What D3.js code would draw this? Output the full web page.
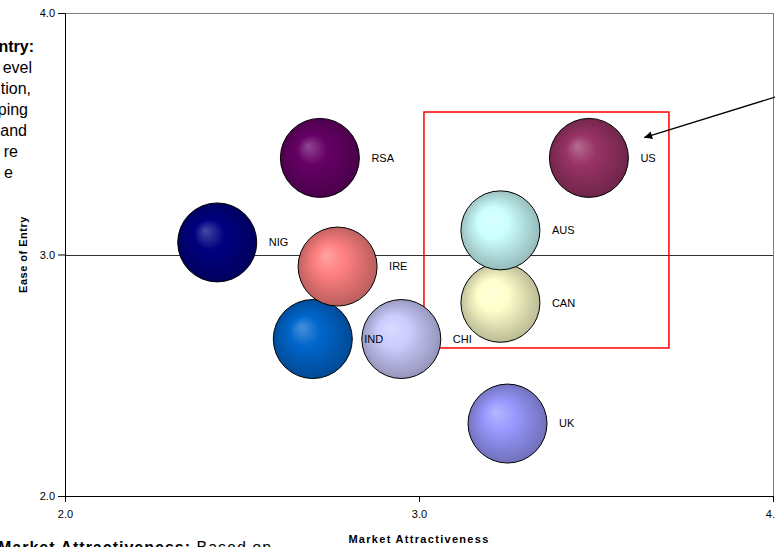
<!DOCTYPE html>
<html>
<head>
<meta charset="utf-8">
<script src="https://cdn.jsdelivr.net/npm/d3@7"></script>
<style>
  html, body { margin: 0; padding: 0; background: #fff; overflow: hidden; }
  svg { display: block; font-family: "Liberation Sans", Arial, sans-serif; }
</style>
</head>
<body>
<svg id="chart" width="775" height="547"></svg>
<script>
// ---- data ----
const countries      = ["UK", "US", "CAN", "AUS", "RSA", "IND", "IRE", "CHI", "NIG"];
const attractiveness = [3.25, 3.48, 3.23, 3.23, 2.72, 2.70, 2.77, 2.95, 2.43];
const easeOfEntry    = [2.30, 3.40, 2.80, 3.10, 3.40, 2.65, 2.95, 2.65, 3.05];
const bubbleSizes    = [1, 1, 1, 1, 1, 1, 1, 1, 1];
const bubbleColors   = ["#9999FF", "#993366", "#FFFFCC", "#CCFFFF", "#660066", "#0066CC", "#FF8080", "#CCCCFF", "#000080"];
const tickValues     = [2.0, 3.0, 4.0];
const xTitle = "Market Attractiveness";
const yTitle = "Ease of Entry";
const referenceLineY = 3.0;
// highlighted region (data units): [x0, x1, y0, y1]
const highlightBox = [3.014, 3.706, 2.613, 3.59];
// arrow annotation (data units): from -> to
const arrowFrom = [4.006, 3.652];
const arrowTo   = [3.636, 3.484];
// clipped side text fragments
const sideLines  = ["ntry:", "evel", "tion,", "ping", "and", "re", "e"];
const sideEnds   = [34, 32, 31, 28, 27, 18, 13];

// ---- layout ----
const W = 775, H = 547;
const plot = { left: 65, right: 773, top: 13, bottom: 496 };
const svg = d3.select("#chart");

const x = d3.scaleLinear().domain([2, 4]).range([plot.left, plot.right]);
const y = d3.scaleLinear().domain([2, 4]).range([plot.bottom, plot.top]);
const r = d3.scaleSqrt().domain([0, d3.max(bubbleSizes)]).range([0, 39.5]);

const data = countries.map((c, i) => ({
  name: c, x: attractiveness[i], y: easeOfEntry[i], s: bubbleSizes[i], color: bubbleColors[i], i
}));

// gradients
const defs = svg.append("defs");
data.forEach(d => {
  const base = d3.color(d.color);
  const g = defs.append("radialGradient")
    .attr("id", "g" + d.i)
    .attr("cx", "50%").attr("cy", "50%").attr("r", "55%")
    .attr("fx", "35%").attr("fy", "35%");
  g.append("stop").attr("offset", "0%").attr("stop-color", d3.interpolateRgb(base, "#fff")(0.28));
  g.append("stop").attr("offset", "35%").attr("stop-color", base.formatHex());
  g.append("stop").attr("offset", "100%").attr("stop-color", base.darker(1.0).formatHex());
});
defs.append("marker")
  .attr("id", "arrowhead")
  .attr("viewBox", "0 0 10 10")
  .attr("refX", 10).attr("refY", 5)
  .attr("markerWidth", 12).attr("markerHeight", 8)
  .attr("markerUnits", "userSpaceOnUse")
  .attr("orient", "auto")
  .append("path").attr("d", "M0,0 L10,5 L0,10 Z").attr("fill", "#000");

// plot border (top/right gray)
svg.append("path")
  .attr("d", `M${plot.left},${plot.top}H${plot.right}V${plot.bottom}`)
  .attr("fill", "none").attr("stroke", "#808080").attr("stroke-width", 1)
  .attr("shape-rendering", "crispEdges");

// reference line at y=3.0
svg.append("line")
  .attr("x1", plot.left).attr("x2", plot.right)
  .attr("y1", Math.round(y(referenceLineY)) + 0.5).attr("y2", Math.round(y(referenceLineY)) + 0.5)
  .attr("stroke", "#333").attr("stroke-width", 1);

// axes
const xAxis = d3.axisBottom(x).tickValues(tickValues).tickFormat(d3.format(".1f")).tickSize(6).tickPadding(8);
const yAxis = d3.axisLeft(y).tickValues(tickValues).tickFormat(d3.format(".1f")).tickSize(7).tickPadding(3);

const gx = svg.append("g").attr("transform", `translate(0,${plot.bottom})`).call(xAxis);
const gy = svg.append("g").attr("transform", `translate(${plot.left},0)`).call(yAxis);
[gx, gy].forEach(g => {
  g.selectAll("path").attr("stroke", "#000");
  g.selectAll("line").attr("stroke", "#000");
  g.selectAll("text").attr("font-size", 11).attr("fill", "#000")
    .attr("font-family", "'Liberation Sans', Arial, sans-serif");
});

// red highlight box
svg.append("rect")
  .attr("x", x(highlightBox[0])).attr("y", y(highlightBox[3]))
  .attr("width", x(highlightBox[1]) - x(highlightBox[0]))
  .attr("height", y(highlightBox[2]) - y(highlightBox[3]))
  .attr("fill", "none").attr("stroke", "#ff0000").attr("stroke-width", 1.5);

// bubbles
svg.append("g").selectAll("circle").data(data).join("circle")
  .attr("cx", d => x(d.x)).attr("cy", d => y(d.y)).attr("r", d => r(d.s))
  .attr("fill", d => `url(#g${d.i})`)
  .attr("stroke", "#000").attr("stroke-width", 1);

// bubble labels
svg.append("g").selectAll("text").data(data).join("text")
  .attr("x", d => x(d.x) + r(d.s) + 12)
  .attr("y", d => y(d.y))
  .attr("dy", "0.35em")
  .attr("font-size", 11).attr("fill", "#000")
  .text(d => d.name);

// arrow
svg.append("line")
  .attr("x1", x(arrowFrom[0])).attr("y1", y(arrowFrom[1]))
  .attr("x2", x(arrowTo[0])).attr("y2", y(arrowTo[1]))
  .attr("stroke", "#000").attr("stroke-width", 1.3)
  .attr("marker-end", "url(#arrowhead)");

// axis titles
svg.append("text")
  .attr("x", (plot.left + plot.right) / 2).attr("y", 543)
  .attr("text-anchor", "middle").attr("font-size", 11).attr("font-weight", "bold")
  .attr("letter-spacing", "1.3px")
  .text(xTitle);
svg.append("text")
  .attr("transform", `translate(27,${(plot.top + plot.bottom) / 2}) rotate(-90)`)
  .attr("text-anchor", "middle").attr("font-size", 11).attr("font-weight", "bold")
  .attr("letter-spacing", "0.5px")
  .text(yTitle);

// clipped side text box (left)
svg.append("g").selectAll("text").data(sideLines).join("text")
  .attr("x", (d, i) => sideEnds[i])
  .attr("y", (d, i) => 52 + i * 21)
  .attr("text-anchor", "end")
  .attr("font-size", 16)
  .attr("font-weight", (d, i) => i === 0 ? "bold" : "normal")
  .attr("fill", "#000")
  .text(d => d);

// clipped bottom text
const bt = svg.append("text").attr("x", -2).attr("y", 553).attr("font-size", 16).attr("letter-spacing", "1px");
bt.append("tspan").attr("font-weight", "bold").text("Market Attractiveness:");
bt.append("tspan").text(" Based on");
</script>
</body>
</html>
